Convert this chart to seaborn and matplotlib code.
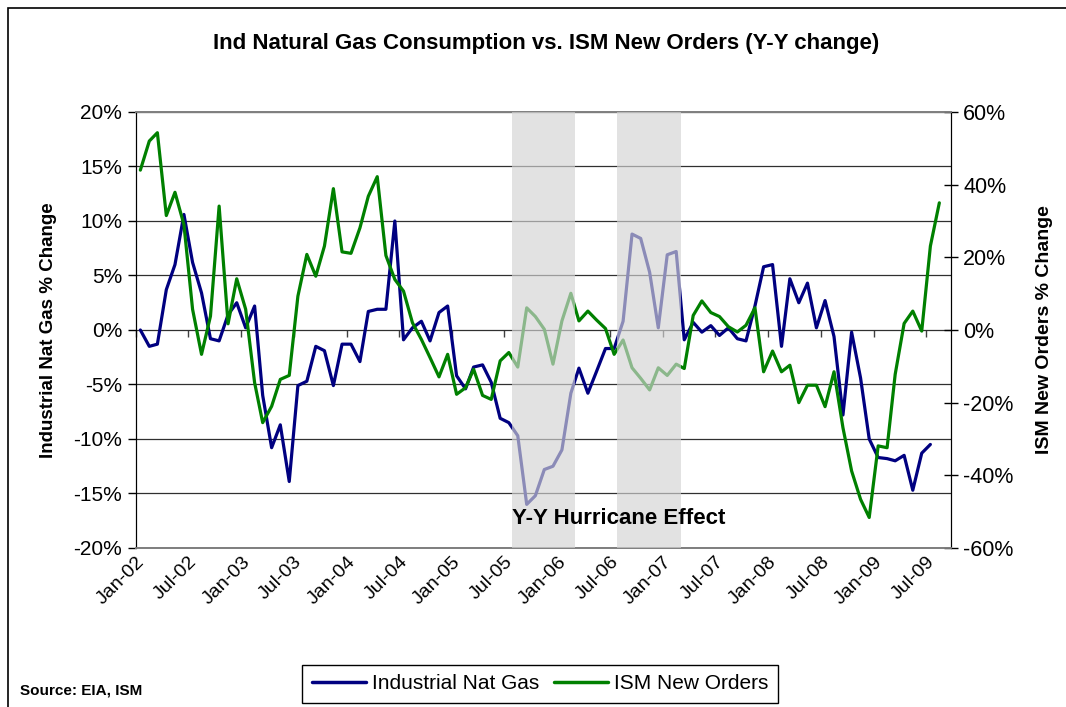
import matplotlib
matplotlib.use("Agg")
import matplotlib.pyplot as plt
from matplotlib.patches import Rectangle
from matplotlib.lines import Line2D
import pandas as pd
import seaborn as sns

# Y-Y % change, monthly from Jan-02
nat_gas = [0.0, -1.5, -1.3, 3.7, 6.0, 10.6, 6.2, 3.4, -0.8, -1.0,
           1.4, 2.5, 0.2, 2.2, -6.0, -10.8, -8.7, -13.9, -5.1, -4.7,
           -1.5, -1.9, -5.1, -1.3, -1.3, -2.9, 1.7, 1.9, 1.9, 10.0,
           -0.9, 0.2, 0.8, -1.0, 1.6, 2.2, -4.2, -5.4, -3.4, -3.2,
           -4.8, -8.1, -8.5, -9.7, -16.0, -15.2, -12.8, -12.5, -11.0, -5.8,
           -3.5, -5.8, -3.8, -1.7, -1.7, 0.8, 8.8, 8.4, 5.3, 0.2,
           6.9, 7.2, -0.9, 0.7, -0.2, 0.4, -0.5, 0.2, -0.8, -1.0,
           2.2, 5.8, 6.0, -1.5, 4.7, 2.5, 4.3, 0.2, 2.7, -0.6,
           -7.8, -0.2, -4.4, -10.0, -11.7, -11.8, -12.0, -11.5, -14.7, -11.3,
           -10.5]
ism_orders = [44.0, 52.0, 54.3, 31.5, 37.9, 29.0, 5.7, -6.7, 3.8, 34.1,
              1.7, 14.1, 5.7, -14.5, -25.5, -21.0, -13.6, -12.5, 9.3, 20.8,
              14.8, 23.1, 38.9, 21.5, 21.1, 28.1, 36.8, 42.2, 20.5, 13.9,
              10.7, 2.0, -2.6, -7.6, -12.9, -6.7, -17.7, -15.9, -10.8, -18.0,
              -19.1, -8.5, -6.2, -10.2, 6.1, 3.7, 0.2, -9.4, 2.5, 10.1,
              2.5, 5.2, 2.75, 0.4, -6.7, -2.75, -10.4, -13.3, -16.5, -10.4,
              -12.5, -9.4, -10.6, 4.0, 8.0, 4.8, 3.7, 0.9, -0.55, 1.3,
              6.1, -11.5, -5.8, -11.5, -9.7, -20.0, -15.2, -15.2, -21.1, -11.5,
              -26.9, -38.8, -46.6, -51.6, -31.9, -32.4, -12.2, 1.8, 5.2, -0.3,
              23.1, 35.0]

months = pd.date_range("2002-01-01", periods=len(ism_orders), freq="MS") + pd.Timedelta(days=15)
tick_dates = pd.date_range("2002-01-01", "2009-07-01", freq="6MS")
hurricane_spans = [("2005-07-27", "2006-03-01"), ("2006-07-25", "2007-03-03")]

blue = "#000080"
green = "#008000"

sns.set_style("white")
plt.rcParams["font.family"] = ["Liberation Sans", "DejaVu Sans"]
plt.rcParams.update({"text.color": "black", "axes.labelcolor": "black",
                     "xtick.color": "black", "ytick.color": "black"})

fig = plt.figure(figsize=(10.66, 7.07), dpi=100)
ax = fig.add_axes([0.1276, 0.2249, 0.7644, 0.6167])
ax2 = ax.twinx()

sns.lineplot(x=months[:len(nat_gas)], y=nat_gas, ax=ax, color=blue, linewidth=2.3, zorder=2)
sns.lineplot(x=months, y=ism_orders, ax=ax2, color=green, linewidth=2.3, zorder=2)

ax.set_ylim(-20, 20)
ax2.set_ylim(-60, 60)
ax.set_xlim(pd.Timestamp("2002-01-01"), pd.Timestamp("2009-09-25"))

ax.set_yticks(range(-20, 21, 5))
ax.set_yticklabels([f"{v}%" for v in range(-20, 21, 5)], fontsize=15)
ax2.set_yticks(range(-60, 61, 20))
ax2.set_yticklabels([f"{v}%" for v in range(-60, 61, 20)], fontsize=15.5)

ax.yaxis.grid(True, color="#303030", linewidth=0.9)
ax.set_axisbelow(True)

ax.set_xticks(tick_dates)
ax.set_xticklabels([d.strftime("%b-%y") for d in tick_dates], rotation=45,
                   ha="right", rotation_mode="anchor", fontsize=14)
ax.tick_params(axis="x", length=0, pad=4)
ax.tick_params(axis="y", direction="out", length=6, width=1, color="black", left=True, pad=4)
ax2.tick_params(axis="y", direction="inout", length=10, width=1, color="black", right=True, pad=4)

# tick marks along the zero line
sec = ax.secondary_xaxis(0.5)
sec.set_xticks(tick_dates)
sec.set_xticklabels([])
sec.xaxis.set_ticks_position("bottom")
sec.tick_params(direction="out", length=5, width=1, color="#404040")
for s in sec.spines.values():
    s.set_visible(False)

for a in (ax, ax2):
    a.spines["left"].set_color("black")
    a.spines["right"].set_color("black")
    a.spines["top"].set_color("#808080")
    a.spines["bottom"].set_color("#808080")
    a.spines["top"].set_linewidth(1.3)
    a.spines["bottom"].set_linewidth(1.3)
    a.set_xlabel("")

ax.set_ylabel("Industrial Nat Gas % Change", fontsize=13.5, fontweight="bold", labelpad=12)
ax2.set_ylabel("ISM New Orders % Change", fontsize=14, fontweight="bold", labelpad=16)

for start, end in hurricane_spans:
    ax2.axvspan(pd.Timestamp(start), pd.Timestamp(end), facecolor="#d4d4d4",
                alpha=0.66, linewidth=0, zorder=5)

ax2.text(pd.Timestamp(hurricane_spans[0][0]), -52, "Y-Y Hurricane Effect",
         fontsize=16, fontweight="bold", ha="left", va="center", zorder=6)

fig.suptitle("Ind Natural Gas Consumption vs. ISM New Orders (Y-Y change)",
             x=0.512, y=0.939, fontsize=16, fontweight="bold", va="center")

handles = [Line2D([], [], color=blue, linewidth=2.5), Line2D([], [], color=green, linewidth=2.5)]
leg = fig.legend(handles, ["Industrial Nat Gas", "ISM New Orders"], loc="center",
                 bbox_to_anchor=(0.5066, 0.033), ncol=2, fontsize=15,
                 frameon=True, fancybox=False, edgecolor="black", framealpha=1,
                 handlelength=2.6, handletextpad=0.3, columnspacing=0.7, borderpad=0.45)
leg.get_frame().set_linewidth(1.0)

fig.text(0.019, 0.024, "Source: EIA, ISM", fontsize=11, fontweight="bold", va="center")

fig.patches.append(Rectangle((0.0075, -0.02), 1.05, 1.0087, transform=fig.transFigure,
                             fill=False, edgecolor="black", linewidth=1.2))

fig.savefig("out.png", dpi=100)
